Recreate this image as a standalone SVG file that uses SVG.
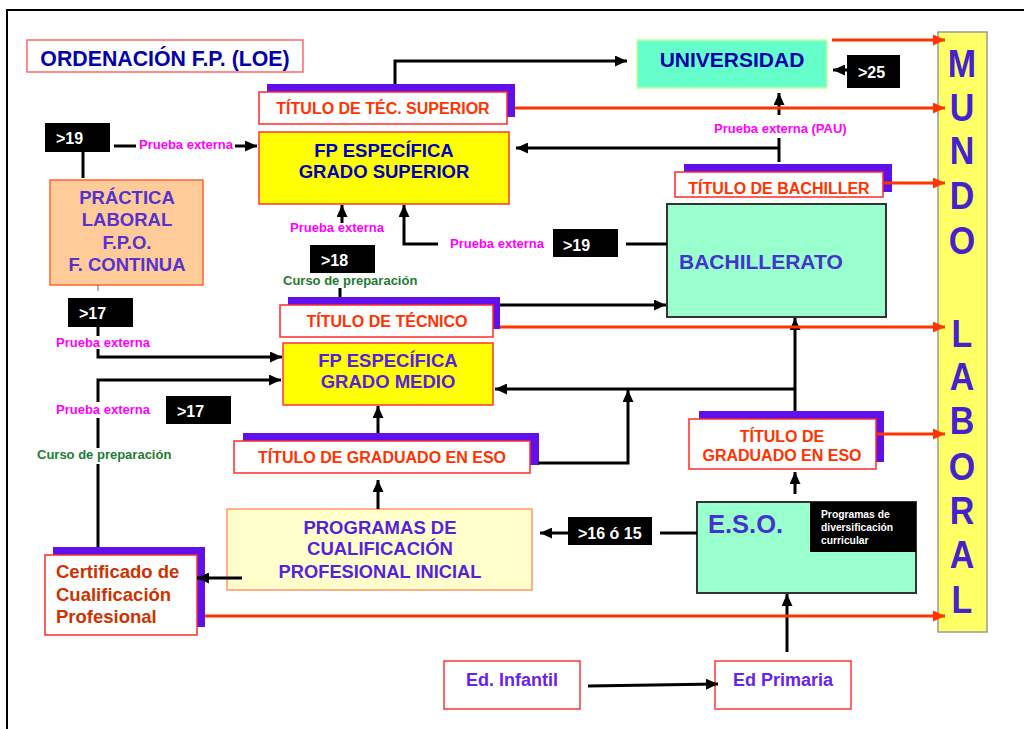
<svg xmlns="http://www.w3.org/2000/svg" width="1024" height="729" viewBox="0 0 1024 729">
<defs>
<marker id="ab" markerUnits="userSpaceOnUse" markerWidth="12" markerHeight="11" refX="12" refY="5.5" orient="auto"><path d="M0,0 L12,5.5 L0,11 z" fill="#000"/></marker>
<marker id="ar" markerUnits="userSpaceOnUse" markerWidth="12" markerHeight="11" refX="12" refY="5.5" orient="auto"><path d="M0,0 L12,5.5 L0,11 z" fill="#ff3300"/></marker>
</defs>
<style>
text{font-family:"Liberation Sans",Arial,sans-serif;font-weight:bold}
.c{text-anchor:middle}
.sh{fill:#6010ea}
.wb{fill:#fff;stroke:#ff2a2a;stroke-width:1.5}
.yb{fill:#ffff00;stroke:#ff3333;stroke-width:1.5}
.gb{fill:#99ffcc;stroke:#333;stroke-width:2}
.bk{fill:#000}
.tr{fill:#ff3300;font-size:16px}
.tw{fill:#fff;font-size:16px}
.pe{fill:#ff00ff;font-size:13px}
.cp{fill:#1f7a33;font-size:13px}
.ln{fill:none;stroke:#000;stroke-width:3}
.rl{fill:none;stroke:#ff3300;stroke-width:3}
.ml{fill:#4422cc;font-size:34px;text-anchor:middle}
</style>
<rect x="7" y="10" width="1030" height="730" fill="#fff" stroke="#000" stroke-width="2"/>

<g id="title">
<rect x="27" y="40" width="276" height="32" fill="#fff" stroke="#ff6666" stroke-width="1.5"/>
<text x="165" y="66" class="c" fill="#0000aa" font-size="21.3">ORDENACIÓN F.P. (LOE)</text>
</g>

<g id="universidad">
<rect x="637" y="40" width="190" height="48" fill="#66ffcc" stroke="#ccff99" stroke-width="1.5"/>
<text x="732" y="67" class="c" fill="#0000aa" font-size="21">UNIVERSIDAD</text>
</g>

<g id="age25">
<rect x="847" y="55" width="53" height="33" class="bk"/>
<text x="858" y="78" class="tw">&gt;25</text>
</g>

<g id="titulo-tec-superior">
<rect x="267" y="84" width="248" height="33" class="sh"/>
<rect x="259" y="92" width="248" height="32" class="wb"/>
<text x="383" y="114" class="c tr">TÍTULO DE TÉC. SUPERIOR</text>
</g>

<g id="age19a">
<rect x="45" y="123" width="65" height="29" class="bk"/>
<text x="56" y="144" class="tw">&gt;19</text>
</g>

<g id="fp-grado-superior">
<rect x="259" y="132" width="250" height="72" class="yb"/>
<text x="384" y="157" class="c" fill="#0000bb" font-size="18.5">FP ESPECÍFICA</text>
<text x="384" y="178" class="c" fill="#0000bb" font-size="18.5">GRADO SUPERIOR</text>
</g>

<g id="practica">
<rect x="50" y="180" width="153" height="105" fill="#ffcc99" stroke="#ff6633" stroke-width="1.5"/>
<text x="127" y="204" class="c" fill="#5533cc" font-size="18.5">PRÁCTICA</text>
<text x="127" y="226" class="c" fill="#5533cc" font-size="18.5">LABORAL</text>
<text x="127" y="249" class="c" fill="#5533cc" font-size="18.5">F.P.O.</text>
<text x="127" y="271" class="c" fill="#5533cc" font-size="18.5">F. CONTINUA</text>
</g>

<g id="titulo-bachiller">
<rect x="684" y="164" width="208" height="28" class="sh"/>
<rect x="675" y="172" width="208" height="25" class="wb"/>
<text x="779" y="194" class="c tr">TÍTULO DE BACHILLER</text>
</g>

<g id="bachillerato">
<rect x="667" y="204" width="219" height="113" class="gb"/>
<text x="679" y="269" fill="#4433cc" font-size="21">BACHILLERATO</text>
</g>

<g id="age19b">
<rect x="553" y="229" width="65" height="28" class="bk"/>
<text x="563" y="251" class="tw">&gt;19</text>
</g>

<g id="age18">
<rect x="310" y="245" width="65" height="28" class="bk"/>
<text x="321" y="266" class="tw">&gt;18</text>
</g>

<g id="age17a">
<rect x="68" y="298" width="65" height="29" class="bk"/>
<text x="79" y="319" class="tw">&gt;17</text>
</g>

<g id="titulo-tecnico">
<rect x="288" y="297" width="212" height="32" class="sh"/>
<rect x="280" y="305" width="213" height="32" class="wb"/>
<text x="387" y="327" class="c tr">TÍTULO DE TÉCNICO</text>
</g>

<g id="fp-grado-medio">
<rect x="283" y="343" width="210" height="62" class="yb"/>
<text x="388" y="367" class="c" fill="#5522dd" font-size="18.5">FP ESPECÍFICA</text>
<text x="388" y="388" class="c" fill="#5522dd" font-size="18.5">GRADO MEDIO</text>
</g>

<g id="age17b">
<rect x="166" y="396" width="65" height="28" class="bk"/>
<text x="177" y="417" class="tw">&gt;17</text>
</g>

<g id="titulo-graduado-eso-izq">
<rect x="243" y="433" width="296" height="32" class="sh"/>
<rect x="234" y="441" width="296" height="32" class="wb"/>
<text x="382" y="463" class="c tr">TÍTULO DE GRADUADO EN ESO</text>
</g>

<g id="titulo-graduado-eso-der">
<rect x="699" y="411" width="185" height="51" class="sh"/>
<rect x="689" y="419" width="187" height="50" class="wb"/>
<text x="782" y="442" class="c tr">TÍTULO DE</text>
<text x="782" y="461" class="c tr">GRADUADO EN ESO</text>
</g>

<g id="programas">
<rect x="227" y="509" width="305" height="81" fill="#ffffcc" stroke="#ff9966" stroke-width="1.5"/>
<text x="380" y="534" class="c" fill="#5522dd" font-size="18.5">PROGRAMAS DE</text>
<text x="380" y="555" class="c" fill="#5522dd" font-size="18.5">CUALIFICACIÓN</text>
<text x="380" y="578" class="c" fill="#5522dd" font-size="18.3">PROFESIONAL INICIAL</text>
</g>

<g id="age16">
<rect x="568" y="517" width="84" height="28" class="bk"/>
<text x="578" y="539" class="tw">&gt;16 ó 15</text>
</g>

<g id="eso">
<rect x="697" y="502" width="219" height="91" class="gb"/>
<text x="708" y="533" fill="#4433cc" font-size="25.5">E.S.O.</text>
<rect x="810" y="502" width="106" height="50" class="bk"/>
<text x="821" y="518" fill="#fff" font-size="10.3">Programas de</text>
<text x="821" y="531" fill="#fff" font-size="10.3">diversificación</text>
<text x="821" y="544" fill="#fff" font-size="10.3">curricular</text>
</g>

<g id="certificado">
<rect x="53" y="547" width="152" height="80" class="sh"/>
<rect x="45" y="555" width="152" height="80" class="wb"/>
<text x="56" y="578" fill="#cc3300" font-size="18.5">Certificado de</text>
<text x="56" y="601" fill="#cc3300" font-size="18.5">Cualificación</text>
<text x="56" y="623" fill="#cc3300" font-size="18.5">Profesional</text>
</g>

<g id="ed-infantil">
<rect x="444" y="661" width="136" height="48" fill="#fff" stroke="#ff3333" stroke-width="1.5"/>
<text x="512" y="686" class="c" fill="#6622ee" font-size="18">Ed. Infantil</text>
</g>

<g id="ed-primaria">
<rect x="715" y="661" width="136" height="48" fill="#fff" stroke="#ff3333" stroke-width="1.5"/>
<text x="783" y="686" class="c" fill="#6622ee" font-size="18">Ed Primaria</text>
</g>

<g id="mundo-laboral">
<rect x="938" y="32" width="49" height="600" fill="#ffff66" stroke="#999" stroke-width="1.5"/>
<text transform="translate(962,77) scale(1,1.13)" class="ml">M</text>
<text transform="translate(962,121) scale(1,1.13)" class="ml">U</text>
<text transform="translate(962,164) scale(1,1.13)" class="ml">N</text>
<text transform="translate(962,209) scale(1,1.13)" class="ml">D</text>
<text transform="translate(962,254) scale(1,1.13)" class="ml">O</text>
<text transform="translate(962,347) scale(1,1.13)" class="ml">L</text>
<text transform="translate(962,390) scale(1,1.13)" class="ml">A</text>
<text transform="translate(962,434) scale(1,1.13)" class="ml">B</text>
<text transform="translate(962,480) scale(1,1.13)" class="ml">O</text>
<text transform="translate(962,524) scale(1,1.13)" class="ml">R</text>
<text transform="translate(962,568) scale(1,1.13)" class="ml">A</text>
<text transform="translate(962,613) scale(1,1.13)" class="ml">L</text>
</g>

<g id="labels">
<text x="139" y="149" class="pe">Prueba externa</text>
<text x="714" y="133" class="pe">Prueba externa (PAU)</text>
<text x="290" y="232" class="pe">Prueba externa</text>
<text x="450" y="248" class="pe">Prueba externa</text>
<text x="283" y="285" class="cp">Curso de preparación</text>
<text x="56" y="347" class="pe">Prueba externa</text>
<text x="56" y="414" class="pe">Prueba externa</text>
<text x="37" y="459" class="cp">Curso de preparación</text>
</g>

<g id="connectors">
<path class="ln" d="M395,84 V61 H627" marker-end="url(#ab)"/>
<path class="ln" d="M114,146 H136"/>
<path class="ln" d="M235,146 H257" marker-end="url(#ab)"/>
<path class="ln" d="M83,152 V178"/>
<path d="M98,285 V291" stroke="#666" stroke-width="1"/>
<path class="ln" d="M98,327 V336"/>
<path class="ln" d="M98,349 V357 H282" marker-end="url(#ab)"/>
<path class="ln" d="M98,547 V464"/>
<path class="ln" d="M98,448 V418"/>
<path class="ln" d="M98,402 V380 H281" marker-end="url(#ab)"/>
<path class="ln" d="M340,288 V297"/>
<path class="ln" d="M342,223 V205" marker-end="url(#ab)"/>
<path class="ln" d="M438,244 H404 V205" marker-end="url(#ab)"/>
<path class="ln" d="M626,244 H667"/>
<path class="ln" d="M500,305 H666" marker-end="url(#ab)"/>
<path class="ln" d="M779,162 V138"/>
<path class="ln" d="M779,148 H516" marker-end="url(#ab)"/>
<path class="ln" d="M779,115 V93" marker-end="url(#ab)"/>
<path class="ln" d="M847,70 H833" marker-end="url(#ab)"/>
<path class="ln" d="M795,411 V318" marker-end="url(#ab)"/>
<path class="ln" d="M795,389 H495" marker-end="url(#ab)"/>
<path class="ln" d="M538,463 H628 V390" marker-end="url(#ab)"/>
<path class="ln" d="M378,433 V406" marker-end="url(#ab)"/>
<path class="ln" d="M378,509 V480" marker-end="url(#ab)"/>
<path class="ln" d="M242,578 H197" marker-end="url(#ab)"/>
<path class="ln" d="M568,533 H540" marker-end="url(#ab)"/>
<path class="ln" d="M660,533 H697"/>
<path class="ln" d="M795,494 V472" marker-end="url(#ab)"/>
<path class="ln" d="M787,652 V594" marker-end="url(#ab)"/>
<path class="ln" d="M588,686 L718,684" stroke-width="4" marker-end="url(#ab)"/>
<path class="rl" d="M832,40 H945" marker-end="url(#ar)"/>
<path class="rl" d="M515,108 H945" marker-end="url(#ar)"/>
<path class="rl" d="M884,183 H945" marker-end="url(#ar)"/>
<path class="rl" d="M500,327 H945" marker-end="url(#ar)"/>
<path class="rl" d="M877,434 H945" marker-end="url(#ar)"/>
<path class="rl" d="M205,616 H945" marker-end="url(#ar)"/>
</g>
</svg>
